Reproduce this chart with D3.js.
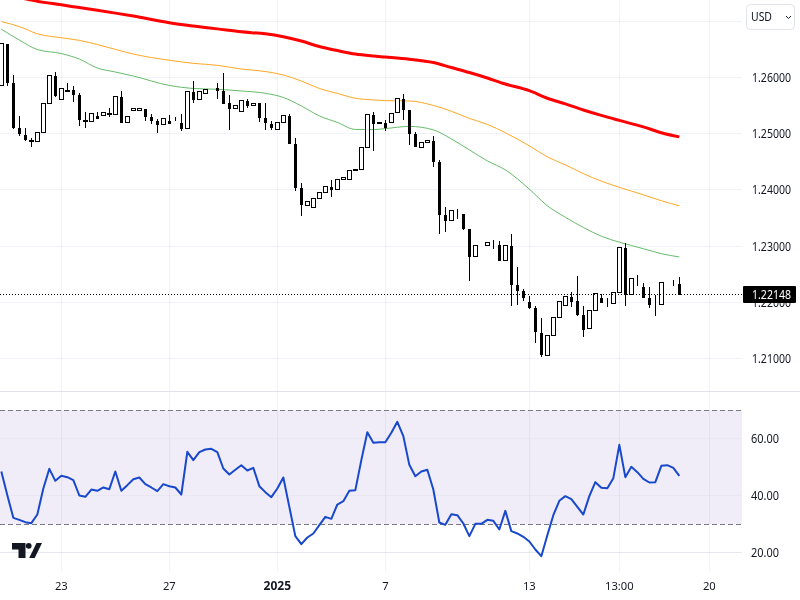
<!DOCTYPE html>
<html>
<head>
<meta charset="utf-8">
<script src="https://cdn.jsdelivr.net/npm/d3@7"></script>
<style>
  html, body { margin: 0; padding: 0; background: #fff; }
  svg { display: block; }
  text { font-family: "Noto Sans", sans-serif; fill: #131722; }
</style>
</head>
<body>
<div id="chart"></div>
<script>
// candles
var open = [1.25857,1.26590,1.25893,1.25101,1.24977,1.24888,1.24864,1.25024,1.25538,1.26023,
  1.25609,1.25769,1.25769,1.25686,1.25243,1.25219,1.25314,1.25325,1.25367,1.25343,
  1.25644,1.25201,1.25414,1.25414,1.25432,1.25290,1.25225,1.25166,1.25219,1.25225,
  1.25184,1.25095,1.25739,1.25609,1.25715,1.25816,1.25804,1.25757,1.25544,1.25449,
  1.25396,1.25580,1.25503,1.25544,1.25278,1.25172,1.25089,1.25201,1.25314,1.24817,
  1.24037,1.23724,1.23694,1.23854,1.23960,1.24055,1.24014,1.24191,1.24191,1.24368,
  1.24368,1.24758,1.25331,1.25201,1.25190,1.25201,1.25379,1.25615,1.25420,1.24995,
  1.24758,1.24847,1.24870,1.24498,1.23558,1.23464,1.23588,1.23576,1.23311,1.22820,
  1.23021,1.23021,1.23039,1.23021,1.22755,1.23009,1.22318,1.22212,1.22017,1.21910,
  1.21467,1.21071,1.21426,1.21745,1.21957,1.22105,1.22034,1.21786,1.21550,1.21869,
  1.22087,1.22017,1.21993,1.22188,1.22974,1.22152,1.22318,1.22282,1.22087,1.21975,
  1.21975,1.22383,1.22300,1.22336];
var close = [1.26602,1.25922,1.25113,1.25012,1.24900,1.24876,1.25024,1.25538,1.26035,1.25692,
  1.25804,1.25763,1.25709,1.25266,1.25231,1.25361,1.25284,1.25379,1.25355,1.25662,
  1.25213,1.25308,1.25461,1.25449,1.25314,1.25243,1.25172,1.25272,1.25195,1.25219,
  1.25107,1.25751,1.25615,1.25751,1.25798,1.25810,1.25775,1.25550,1.25455,1.25514,
  1.25591,1.25509,1.25538,1.25302,1.25207,1.25119,1.25201,1.25326,1.24841,1.24055,
  1.23742,1.23801,1.23854,1.23960,1.24067,1.24019,1.24191,1.24226,1.24350,1.24362,
  1.24758,1.25343,1.25190,1.25195,1.25119,1.25373,1.25627,1.25438,1.25018,1.24788,
  1.24847,1.24882,1.24516,1.23576,1.23470,1.23635,1.23582,1.23328,1.22832,1.23021,
  1.23015,1.23074,1.23033,1.22761,1.23021,1.22336,1.22229,1.22093,1.21928,1.21485,
  1.21077,1.21426,1.21745,1.22028,1.22117,1.22034,1.21804,1.21538,1.21869,1.22170,
  1.22017,1.22011,1.22188,1.22986,1.22152,1.22436,1.22312,1.22105,1.21981,1.21969,
  1.22365,1.22377,1.22294,1.22148];
var high = [1.26602,1.26590,1.26040,1.25314,1.25101,1.24918,1.25024,1.25538,1.26035,1.26094,
  1.25804,1.25905,1.25845,1.25727,1.25384,1.25361,1.25384,1.25379,1.25455,1.25662,
  1.25757,1.25308,1.25461,1.25449,1.25432,1.25349,1.25261,1.25272,1.25331,1.25296,
  1.25349,1.25751,1.25934,1.25751,1.25798,1.25816,1.25899,1.26076,1.25686,1.25514,
  1.25591,1.25615,1.25538,1.25544,1.25544,1.25219,1.25201,1.25326,1.25349,1.24924,
  1.24126,1.23801,1.23854,1.23960,1.24067,1.24179,1.24191,1.24226,1.24350,1.24368,
  1.24758,1.25343,1.25385,1.25201,1.25243,1.25373,1.25627,1.25704,1.25420,1.25036,
  1.24847,1.24882,1.24959,1.24534,1.23700,1.23635,1.23665,1.23576,1.23311,1.23021,
  1.23021,1.23074,1.23116,1.23098,1.23021,1.23222,1.22637,1.22247,1.22123,1.21946,
  1.21733,1.21426,1.21745,1.22028,1.22117,1.22194,1.22478,1.21946,1.21869,1.22170,
  1.22158,1.22087,1.22188,1.22986,1.23063,1.22436,1.22495,1.22353,1.22282,1.22141,
  1.22365,1.22383,1.22407,1.22460];
var low = [1.25857,1.25851,1.25083,1.24959,1.24870,1.24770,1.24864,1.25024,1.25538,1.25650,
  1.25609,1.25757,1.25562,1.25136,1.25101,1.25219,1.25284,1.25325,1.25290,1.25343,
  1.25213,1.25201,1.25414,1.25414,1.25225,1.25166,1.25018,1.25166,1.25195,1.25219,
  1.25048,1.25095,1.25544,1.25609,1.25715,1.25810,1.25615,1.25550,1.25065,1.25449,
  1.25396,1.25456,1.25503,1.25213,1.25065,1.25065,1.25089,1.25201,1.24841,1.23984,
  1.23529,1.23724,1.23694,1.23854,1.23960,1.23878,1.24014,1.24191,1.24191,1.24362,
  1.24368,1.24758,1.24693,1.25195,1.25048,1.25201,1.25379,1.25243,1.24800,1.24788,
  1.24758,1.24847,1.24409,1.23222,1.23257,1.23464,1.23488,1.23292,1.22389,1.22820,
  1.23015,1.23021,1.22956,1.22761,1.22755,1.21934,1.21963,1.22034,1.21892,1.21272,
  1.21024,1.21071,1.21426,1.21745,1.21957,1.21928,1.21768,1.21396,1.21550,1.21869,
  1.22017,1.21928,1.21993,1.22188,1.21946,1.22152,1.22300,1.22105,1.21910,1.21768,
  1.21975,1.22377,1.22294,1.22148];

// moving averages, sampled at these candle numbers
var maIndex = [0,3,6,10,13,16,19,22,28,32,36,40,44,47,50,53,56,59,62,64,68,72,75,78,81,84,88,91,94,97,100,103,107,110,113];
var maRed = [1.27477,1.27415,1.27349,1.27287,1.27238,1.27190,1.27140,1.27087,1.26968,1.26910,
  1.26860,1.26807,1.26773,1.26720,1.26644,1.26546,1.26475,1.26413,1.26378,1.26360,
  1.26321,1.26262,1.26174,1.26085,1.25988,1.25881,1.25762,1.25628,1.25527,1.25420,
  1.25323,1.25234,1.25119,1.25016,1.24942];
var maOrange = [1.26989,1.26901,1.26773,1.26702,1.26656,1.26582,1.26496,1.26413,1.26303,1.26248,
  1.26213,1.26147,1.26103,1.26041,1.25934,1.25801,1.25713,1.25628,1.25598,1.25585,
  1.25580,1.25500,1.25397,1.25270,1.25163,1.25016,1.24782,1.24587,1.24445,1.24289,
  1.24156,1.24046,1.23913,1.23807,1.23718];
var maGreen = [1.26856,1.26661,1.26493,1.26422,1.26324,1.26165,1.26094,1.26023,1.25855,1.25801,
  1.25787,1.25757,1.25716,1.25642,1.25491,1.25314,1.25199,1.25074,1.25071,1.25089,
  1.25128,1.25066,1.24906,1.24711,1.24516,1.24356,1.24014,1.23718,1.23514,1.23333,
  1.23177,1.23071,1.22956,1.22867,1.22809];

var rsi = [48.42,40.12,32.16,31.46,30.64,30.29,33.33,42.46,49.36,45.15,
  46.90,46.43,45.38,40.00,39.53,42.10,41.64,42.81,42.22,48.42,
  41.64,43.63,45.73,46.32,43.98,42.81,41.52,43.98,43.27,42.81,
  40.35,55.32,52.40,55.20,56.14,56.37,55.20,49.47,47.37,49.01,
  50.64,48.77,49.71,43.27,41.17,39.41,42.46,46.32,36.02,25.73,
  22.92,25.26,26.67,29.59,32.51,31.81,36.84,38.01,41.64,41.87,
  52.40,62.22,58.48,58.71,58.71,61.99,65.85,60.82,50.76,46.78,
  48.42,49.01,42.10,30.53,29.71,33.45,33.10,30.17,25.73,30.06,
  30.06,31.46,31.11,28.07,34.62,27.49,26.67,25.50,23.86,21.05,
  18.71,26.08,33.10,38.13,39.77,38.71,36.02,33.33,39.77,44.68,
  42.69,42.57,46.08,57.78,46.43,50.06,48.19,45.85,44.56,44.68,
  50.41,50.64,49.71,46.90];

var priceTicks = [1.26,1.25,1.24,1.23,1.22,1.21];
var priceGrid = [1.27,1.26,1.25,1.24,1.23,1.22,1.21];
var rsiTicks = [60,40,20];
var rsiBands = [70,30];
var timeIndex = [10,28,46,64,88,103,118];
var timeLabels = ["23","27","2025","7","13","13:00","20"];
var lastPrice = 1.22148;

var width = 800, height = 600, plotRight = 742;

var svg = d3.select("#chart").append("svg")
    .attr("width", width)
    .attr("height", height);

var x = d3.scaleLinear().domain([0, 113]).range([1.33, 679.33]);
var y = d3.scaleLinear().domain([1.26, 1.21]).range([77.3, 358.8]);
var yRsi = d3.scaleLinear().domain([60, 20]).range([438.5, 552.5]);

function px(v) { return Math.floor(v) + 0.5; }

// grid
var gridColor = "#f0f3fa";
svg.append("g").selectAll("line").data(priceGrid).enter().append("line")
    .attr("x1", 0).attr("x2", plotRight)
    .attr("y1", function(d) { return px(y(d)); })
    .attr("y2", function(d) { return px(y(d)); })
    .attr("stroke", gridColor);

svg.append("rect")
    .attr("x", 0).attr("width", plotRight)
    .attr("y", yRsi(rsiBands[0])).attr("height", yRsi(rsiBands[1]) - yRsi(rsiBands[0]))
    .attr("fill", "#f0edf8");

svg.append("g").selectAll("line").data(rsiTicks).enter().append("line")
    .attr("x1", 0).attr("x2", plotRight)
    .attr("y1", function(d) { return px(yRsi(d)); })
    .attr("y2", function(d) { return px(yRsi(d)); })
    .attr("stroke", "#e9e8f2");

svg.append("g").selectAll("line").data(timeIndex).enter().append("line")
    .attr("x1", function(d) { return px(x(d)); })
    .attr("x2", function(d) { return px(x(d)); })
    .attr("y1", 0).attr("y2", 572)
    .attr("stroke", gridColor)
    .style("mix-blend-mode", "multiply");

// pane separator
svg.append("line")
    .attr("x1", 0).attr("x2", width).attr("y1", 391.5).attr("y2", 391.5)
    .attr("stroke", "#e0e3eb");

// moving averages
function maLine(values, color, w) {
  var line = d3.line()
      .x(function(d) { return x(d); })
      .y(function(d, i) { return y(values[i]); })
      .curve(d3.curveMonotoneX);
  svg.append("path")
      .datum(maIndex)
      .attr("d", line)
      .attr("fill", "none")
      .attr("stroke", color)
      .attr("stroke-width", w);
}
maLine(maGreen, "#66bb6a", 1);
maLine(maOrange, "#ffa726", 1);
maLine(maRed, "#ff0000", 3);

// candles
var candles = d3.range(open.length);

function bodyHeight(i) {
  return Math.round(y(Math.min(open[i], close[i]))) - Math.round(y(Math.max(open[i], close[i])));
}
// hollow bodies and doji dashes are wider than the filled bodies
function isWide(i) { return close[i] >= open[i] || bodyHeight(i) < 2; }

svg.append("g").selectAll("line").data(candles).enter().append("line")
    .attr("x1", function(i) { return px(x(i)); })
    .attr("x2", function(i) { return px(x(i)); })
    .attr("y1", function(i) { return Math.round(y(high[i])); })
    .attr("y2", function(i) { return Math.round(y(low[i])); })
    .attr("stroke", "#000");

svg.append("g").selectAll("rect").data(candles).enter().append("rect")
    .attr("x", function(i) { return Math.floor(x(i)) - (isWide(i) ? 2 : 1) + 0.5; })
    .attr("width", function(i) { return isWide(i) ? 4 : 2; })
    .attr("y", function(i) { return Math.round(y(Math.max(open[i], close[i]))) + 0.5; })
    .attr("height", function(i) { return Math.max(0, bodyHeight(i)); })
    .attr("fill", function(i) { return close[i] >= open[i] ? "#fff" : "#000"; })
    .attr("stroke", "#000");

// last price line
svg.append("line")
    .attr("x1", 0).attr("x2", 743)
    .attr("y1", px(y(lastPrice))).attr("y2", px(y(lastPrice)))
    .attr("stroke", "#000")
    .attr("stroke-dasharray", "1 2");

// rsi
svg.append("g").selectAll("line").data(rsiBands).enter().append("line")
    .attr("x1", 0).attr("x2", plotRight)
    .attr("y1", function(d) { return px(yRsi(d)); })
    .attr("y2", function(d) { return px(yRsi(d)); })
    .attr("stroke", "#787b86")
    .attr("stroke-dasharray", "5 3");

svg.append("path")
    .datum(rsi)
    .attr("d", d3.line()
        .x(function(d, i) { return x(i); })
        .y(function(d) { return yRsi(d); }))
    .attr("fill", "none")
    .attr("stroke", "#1848cc")
    .attr("stroke-width", 2)
    .attr("stroke-linejoin", "round");

// axis labels, squeezed a bit to the width they have in the reference
var fontSize = 12;
svg.append("g").selectAll("text").data(priceTicks).enter().append("text")
    .attr("x", 752)
    .attr("y", function(d) { return y(d) + 4.5; })
    .attr("font-size", fontSize)
    .attr("textLength", 39)
    .attr("lengthAdjust", "spacingAndGlyphs")
    .text(function(d) { return d3.format(".5f")(d); });

svg.append("g").selectAll("text").data(rsiTicks).enter().append("text")
    .attr("x", 751)
    .attr("y", function(d) { return yRsi(d) + 4.5; })
    .attr("font-size", fontSize)
    .attr("textLength", 28)
    .attr("lengthAdjust", "spacingAndGlyphs")
    .text(function(d) { return d3.format(".2f")(d); });

svg.append("g").selectAll("text").data(timeIndex).enter().append("text")
    .attr("x", function(d) { return x(d); })
    .attr("y", 590)
    .attr("text-anchor", "middle")
    .attr("font-size", function(d, i) { return timeLabels[i] == "2025" ? 12 : 11.2; })
    .attr("font-weight", function(d, i) { return timeLabels[i] == "2025" ? "bold" : "normal"; })
    .text(function(d, i) { return timeLabels[i]; });

// last price box
svg.append("rect")
    .attr("x", 743).attr("y", 286).attr("width", 53).attr("height", 17)
    .attr("rx", 1)
    .attr("fill", "#000");
svg.append("text")
    .attr("x", 752).attr("y", 299)
    .attr("font-size", fontSize)
    .attr("textLength", 39)
    .attr("lengthAdjust", "spacingAndGlyphs")
    .style("fill", "#fff")
    .text(d3.format(".5f")(lastPrice));

// currency button
svg.append("rect")
    .attr("x", 746.5).attr("y", 4.5).attr("width", 48).attr("height", 25)
    .attr("rx", 4)
    .attr("fill", "#fff")
    .attr("stroke", "#e0e3eb");
svg.append("text")
    .attr("x", 751).attr("y", 21)
    .attr("font-size", fontSize)
    .attr("textLength", 21)
    .attr("lengthAdjust", "spacingAndGlyphs")
    .text("USD");
svg.append("path")
    .attr("d", "M786 16 L788.5 18.5 L791 16")
    .attr("fill", "none")
    .attr("stroke", "#131722");

// logo
var logo = svg.append("g").attr("fill", "#131722");
logo.append("path").attr("d", "M12 543 H25.5 V558 H18.5 V549.5 H12 Z");
logo.append("circle").attr("cx", 28.7).attr("cy", 545.8).attr("r", 2.9);
logo.append("path").attr("d", "M36.5 543 H42 L34.7 558 H29.2 Z");
</script>
</body>
</html>
